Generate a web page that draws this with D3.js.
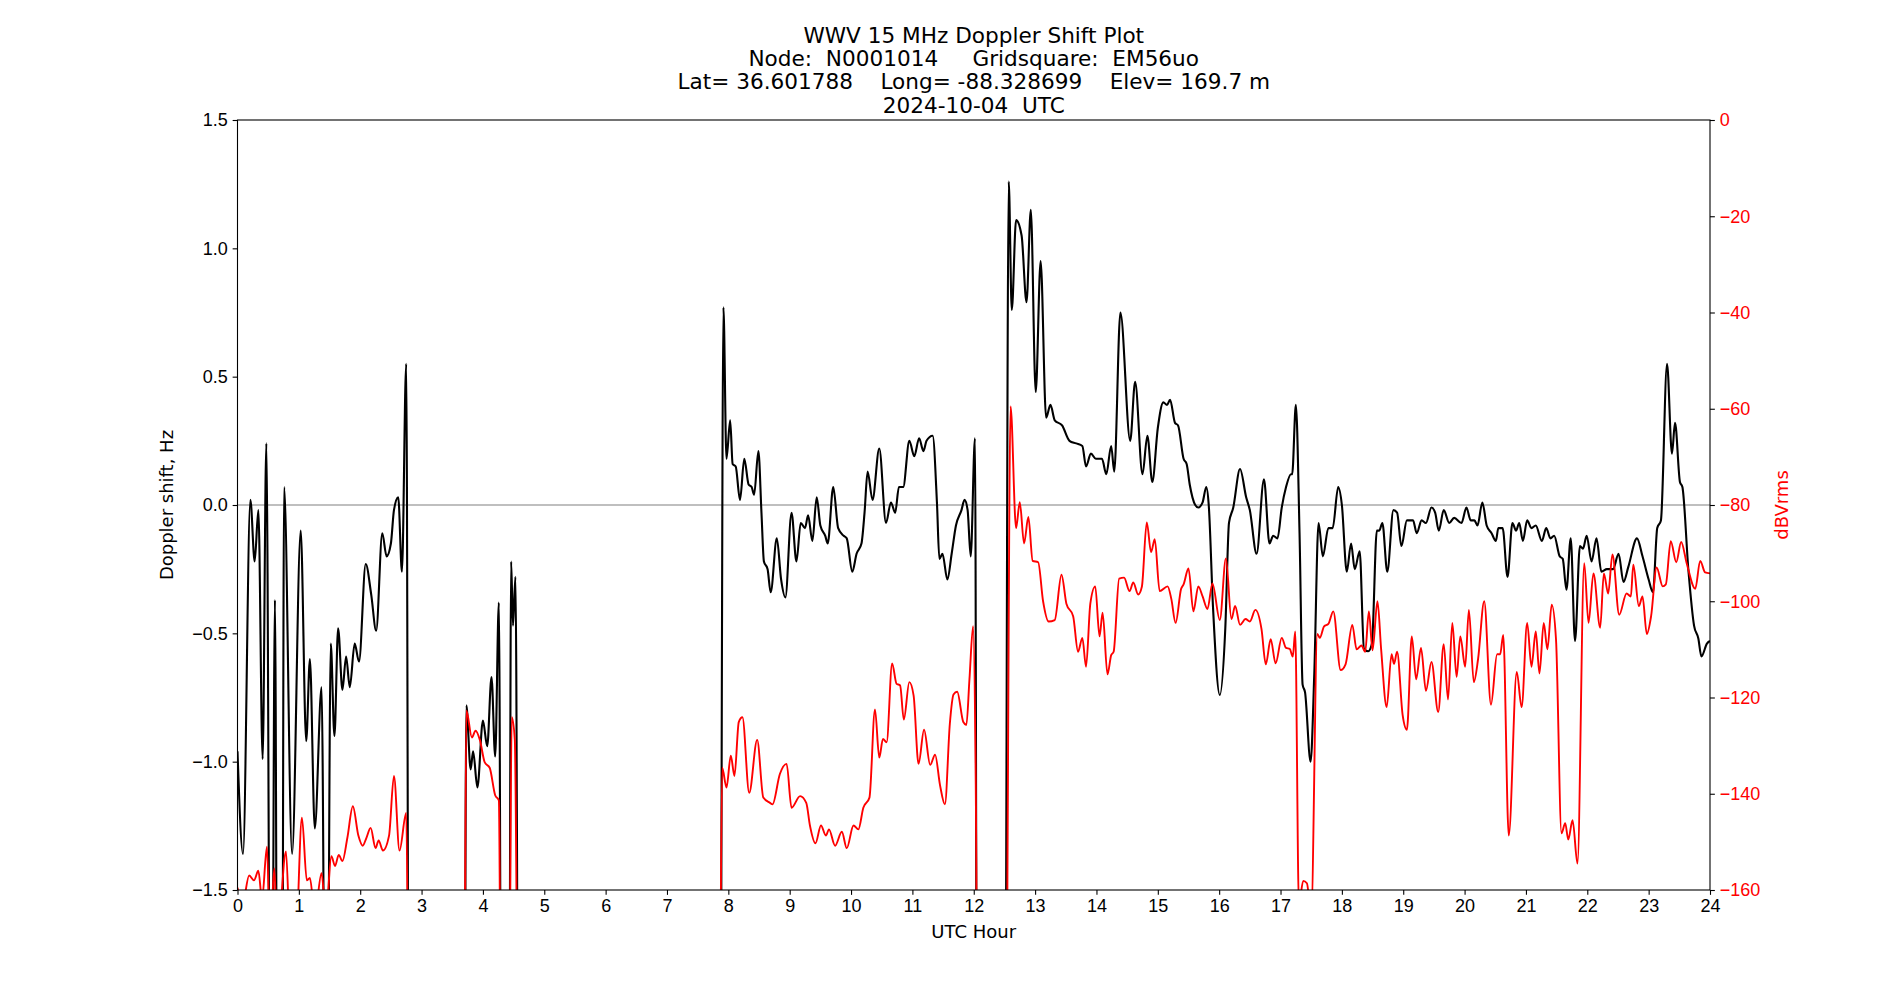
<!DOCTYPE html>
<html>
<head>
<meta charset="utf-8">
<script src="https://cdn.jsdelivr.net/npm/d3@7"></script>
<style>
  body { margin: 0; background: #fff; }
  svg { display: block; font-family: "DejaVu Sans", sans-serif; }
  .tick text { font-size: 18px; }
</style>
</head>
<body>
<svg width="1900" height="1000"></svg>
<script>
// Doppler shift trace (black, left axis). Values below -1.5 run off the plot bottom.
const dopplerHours = [
  0.00, 0.09, 0.21, 0.28, 0.34, 0.41, 0.47, 0.55, 0.61, 0.66, 0.72, 0.76, 0.89, 1.03, 1.12, 1.18,
  1.26, 1.37, 1.45, 1.52, 1.58, 1.64, 1.71, 1.77, 1.83, 1.91, 1.98, 2.09, 2.18, 2.26, 2.36, 2.43,
  2.50, 2.55, 2.62, 2.68, 2.75, 2.80, 3.69, 3.73, 3.80, 3.84, 3.91, 4.00, 4.07, 4.14, 4.20, 4.26,
  4.31, 4.42, 4.46, 4.49, 4.53, 4.59, 7.86, 7.92, 7.97, 8.03, 8.07, 8.12, 8.19, 8.26, 8.33, 8.38,
  8.42, 8.49, 8.54, 8.58, 8.64, 8.69, 8.79, 8.86, 8.93, 9.03, 9.11, 9.18, 9.25, 9.30, 9.37, 9.44,
  9.50, 9.58, 9.62, 9.71, 9.79, 9.88, 9.93, 10.02, 10.09, 10.17, 10.22, 10.27, 10.35, 10.46, 10.57,
  10.65, 10.72, 10.78, 10.85, 10.95, 11.03, 11.11, 11.18, 11.23, 11.33, 11.40, 11.44, 11.49, 11.57,
  11.64, 11.71, 11.80, 11.85, 11.90, 11.95, 12.02, 12.06, 12.50, 12.57, 12.62, 12.69, 12.78, 12.86,
  12.93, 13.01, 13.09, 13.18, 13.25, 13.32, 13.44, 13.56, 13.67, 13.77, 13.83, 13.91, 13.99, 14.09,
  14.16, 14.24, 14.29, 14.39, 14.55, 14.63, 14.75, 14.83, 14.91, 15.00, 15.09, 15.15, 15.20, 15.28,
  15.33, 15.42, 15.47, 15.52, 15.61, 15.66, 15.73, 15.79, 15.83, 15.90, 16.01, 16.10, 16.16, 16.23,
  16.34, 16.44, 16.50, 16.61, 16.73, 16.82, 16.88, 16.95, 17.02, 17.09, 17.17, 17.19, 17.25, 17.31,
  17.36, 17.40, 17.49, 17.55, 17.62, 17.69, 17.78, 17.85, 17.94, 18.00, 18.08, 18.15, 18.21, 18.29,
  18.36, 18.43, 18.49, 18.57, 18.61, 18.66, 18.74, 18.84, 18.90, 18.97, 19.06, 19.11, 19.16, 19.22,
  19.30, 19.37, 19.46, 19.52, 19.58, 19.66, 19.75, 19.83, 19.95, 20.03, 20.10, 20.16, 20.21, 20.29,
  20.36, 20.44, 20.51, 20.55, 20.62, 20.70, 20.78, 20.84, 20.89, 20.95, 21.02, 21.09, 21.16, 21.26,
  21.33, 21.40, 21.46, 21.55, 21.60, 21.66, 21.73, 21.80, 21.88, 21.93, 21.99, 22.07, 22.15, 22.23,
  22.32, 22.42, 22.51, 22.59, 22.67, 22.81, 22.90, 23.00, 23.07, 23.14, 23.20, 23.30, 23.38, 23.43,
  23.51, 23.55, 23.65, 23.74, 23.81, 23.86, 23.95, 24.00
];
const dopplerHz = [
  -0.96, -1.36, 0.02, -0.22, -0.02, -0.99, 0.24, -3, -0.37, -3, -3, 0.07, -1.36, -0.10, -0.92, -0.60,
  -1.26, -0.71, -3, -0.54, -0.90, -0.48, -0.72, -0.59, -0.71, -0.54, -0.61, -0.23, -0.35, -0.49, -0.11, -0.20,
  -0.15, -0.02, 0.03, -0.26, 0.55, -3, -3, -0.78, -1.03, -0.96, -1.10, -0.84, -0.94, -0.67, -0.98, -0.38,
  -3, -3, -0.22, -0.47, -0.28, -3, -3, 0.77, 0.18, 0.33, 0.16, 0.15, 0.02, 0.18, 0.08, 0.07,
  0.04, 0.21, -0.03, -0.22, -0.25, -0.34, -0.13, -0.29, -0.36, -0.03, -0.22, -0.07, -0.09, -0.04, -0.14, 0.03,
  -0.08, -0.12, -0.15, 0.07, -0.09, -0.12, -0.13, -0.26, -0.19, -0.15, -0.03, 0.13, 0.02, 0.22, -0.07,
  0.01, -0.03, 0.07, 0.07, 0.25, 0.19, 0.26, 0.21, 0.25, 0.27, 0.01, -0.21, -0.19, -0.29,
  -0.19, -0.08, -0.02, 0.02, -0.02, -0.20, 0.26, -3, -3, 1.26, 0.76, 1.11, 1.05, 0.79,
  1.15, 0.44, 0.95, 0.34, 0.39, 0.33, 0.31, 0.25, 0.24, 0.23, 0.15, 0.20, 0.18, 0.18,
  0.12, 0.23, 0.13, 0.75, 0.25, 0.48, 0.12, 0.27, 0.09, 0.30, 0.40, 0.39, 0.41, 0.32,
  0.31, 0.18, 0.16, 0.08, 0.00, -0.01, 0.01, 0.07, 0.00, -0.40, -0.74, -0.48, -0.07, -0.01,
  0.14, 0.03, -0.02, -0.19, 0.10, -0.15, -0.12, -0.13, -0.01, 0.07, 0.12, 0.12, 0.39, -0.11,
  -0.70, -0.73, -1.00, -0.66, -0.07, -0.20, -0.09, -0.09, 0.07, 0.00, -0.26, -0.15, -0.25, -0.18,
  -0.56, -0.57, -0.54, -0.10, -0.10, -0.07, -0.26, -0.02, -0.03, -0.16, -0.06, -0.06, -0.06, -0.11,
  -0.06, -0.07, -0.01, -0.03, -0.10, -0.02, -0.07, -0.05, -0.07, -0.01, -0.06, -0.06, -0.08, 0.01,
  -0.08, -0.11, -0.14, -0.09, -0.09, -0.28, -0.07, -0.10, -0.07, -0.14, -0.06, -0.09, -0.08, -0.14,
  -0.09, -0.13, -0.12, -0.20, -0.21, -0.33, -0.13, -0.53, -0.16, -0.17, -0.12, -0.22, -0.13, -0.26,
  -0.25, -0.25, -0.19, -0.30, -0.24, -0.13, -0.20, -0.29, -0.34, -0.09, -0.06, 0.55, 0.20, 0.32,
  0.09, 0.07, -0.26, -0.47, -0.52, -0.59, -0.54, -0.53
];

// Received level trace (red, right axis). Values below -160 run off the plot bottom.
const rmsHours = [
  0.00, 0.08, 0.19, 0.27, 0.34, 0.40, 0.48, 0.53, 0.60, 0.65, 0.79, 0.86, 0.95, 1.05, 1.13, 1.18,
  1.26, 1.37, 1.44, 1.53, 1.59, 1.65, 1.71, 1.79, 1.88, 1.97, 2.04, 2.10, 2.17, 2.25, 2.30, 2.37,
  2.47, 2.55, 2.64, 2.75, 2.80, 3.69, 3.73, 3.82, 3.88, 3.95, 4.03, 4.11, 4.20, 4.26, 4.30, 4.42,
  4.47, 4.52, 4.58, 7.85, 7.90, 7.97, 8.04, 8.10, 8.17, 8.23, 8.34, 8.47, 8.57, 8.68, 8.72, 8.84,
  8.95, 9.03, 9.17, 9.27, 9.33, 9.42, 9.51, 9.59, 9.64, 9.74, 9.85, 9.93, 10.04, 10.12, 10.20, 10.30,
  10.39, 10.46, 10.52, 10.58, 10.67, 10.74, 10.80, 10.86, 10.95, 11.02, 11.10, 11.19, 11.29, 11.37,
  11.45, 11.53, 11.61, 11.67, 11.73, 11.83, 11.88, 11.93, 11.99, 12.03, 12.07, 12.52, 12.60, 12.69,
  12.75, 12.82, 12.89, 12.96, 13.05, 13.13, 13.22, 13.32, 13.43, 13.51, 13.62, 13.70, 13.77, 13.83,
  13.90, 13.98, 14.05, 14.10, 14.18, 14.24, 14.28, 14.37, 14.45, 14.54, 14.60, 14.68, 14.74, 14.82,
  14.89, 14.95, 15.03, 15.16, 15.22, 15.29, 15.38, 15.42, 15.50, 15.58, 15.66, 15.73, 15.81, 15.89,
  16.01, 16.11, 16.20, 16.26, 16.34, 16.43, 16.50, 16.59, 16.69, 16.76, 16.84, 16.92, 17.02, 17.09,
  17.15, 17.20, 17.24, 17.30, 17.37, 17.43, 17.50, 17.60, 17.64, 17.71, 17.78, 17.86, 17.98, 18.06,
  18.17, 18.24, 18.32, 18.38, 18.44, 18.50, 18.58, 18.64, 18.73, 18.81, 18.85, 18.90, 18.99, 19.06,
  19.14, 19.21, 19.29, 19.37, 19.46, 19.57, 19.66, 19.73, 19.80, 19.87, 19.93, 20.01, 20.07, 20.15,
  20.22, 20.32, 20.43, 20.53, 20.58, 20.63, 20.72, 20.85, 20.93, 21.02, 21.09, 21.16, 21.22, 21.29,
  21.35, 21.42, 21.49, 21.58, 21.64, 21.69, 21.76, 21.84, 21.95, 22.02, 22.10, 22.21, 22.27, 22.34,
  22.41, 22.52, 22.64, 22.71, 22.75, 22.84, 22.90, 22.97, 23.04, 23.13, 23.23, 23.28, 23.36, 23.45,
  23.53, 23.62, 23.76, 23.84, 23.92, 24.00
];
const rmsDb = [
  -159.5, -163, -157, -158, -156, -162, -151, -170, -155.5, -170, -152, -170, -170, -145, -158, -157.5,
  -165, -156.5, -165, -153, -155, -152.7, -154, -149.2, -142.6, -148.7, -150.8, -149.2, -147.1, -151.3, -149.7, -151.8,
  -148.7, -136.3, -151.8, -144, -200, -200, -122.7, -128.3, -126.9, -128.8, -133.5, -134.6, -140.3, -141.4, -200, -200,
  -124.1, -128.8, -200, -200, -134.6, -138.7, -132.1, -136.3, -125.1, -124.1, -139.8, -128.8, -140.8, -141.9, -142.2, -135.9,
  -133.8, -142.9, -140.5, -141.9, -146.6, -150.3, -146.6, -148.7, -147.4, -150.8, -147.9, -151.3, -146.6, -147.4, -142.9, -140.8,
  -122.5, -132.5, -128.6, -129.3, -112.9, -117.1, -117.5, -124.6, -116.8, -119.6, -133.8, -126.7, -134, -131.9,
  -138.2, -142.2, -125.5, -119.4, -118.8, -125.1, -125.7, -116.2, -105.2, -134, -200, -200, -59.5, -84.8,
  -79.4, -88, -82.5, -91.6, -91.9, -100, -104.2, -103.9, -94.5, -100.5, -103.1, -110.5, -107.6, -113.6,
  -100.5, -96.9, -107.3, -102.4, -115.2, -111.2, -110.5, -95.3, -95.1, -97.9, -96.1, -98.6, -97, -83.6,
  -89.8, -87.1, -97.9, -96.9, -99.5, -104.5, -97.4, -96.5, -93.2, -102.1, -96.9, -99, -101.6, -96.3,
  -103.9, -91.1, -103.7, -101, -104.9, -103.7, -104.2, -101.8, -105.8, -113.1, -107.9, -112.9, -107.6, -109.7,
  -109.9, -111.5, -106.3, -163, -158.1, -158.6, -165, -106.8, -107.6, -105.2, -104.7, -102.1, -114.3, -113.1,
  -104.9, -110, -109.2, -110.5, -102.1, -110.2, -100, -110, -122, -111, -113, -110.5, -123.6, -126.7,
  -107.3, -116.2, -109.7, -118.6, -112.6, -123, -108.9, -120.4, -104.5, -115.7, -107.3, -113.6, -101.8, -116.8,
  -112, -100, -121.5, -111, -111, -107, -148.7, -114.7, -122, -104.5, -113.6, -106.3, -115, -104.5,
  -110, -100.7, -107.9, -148.2, -146.1, -149.5, -145.5, -154.5, -92.1, -104.5, -94.2, -105.5, -94.2, -98.4,
  -90.3, -102.8, -98.4, -99, -92.4, -101, -99, -106.8, -103.1, -93, -96.9, -96.5, -87.5, -91.9,
  -87.7, -92.1, -97.4, -91.6, -94, -94.2
];

const hourTicks = d3.range(0, 25);
const hzTicks = [-1.5, -1.0, -0.5, 0.0, 0.5, 1.0, 1.5];
const dbTicks = [-160, -140, -120, -100, -80, -60, -40, -20, 0];
const titleLines = [
  "WWV 15 MHz Doppler Shift Plot",
  "Node:  N0001014     Gridsquare:  EM56uo",
  "Lat= 36.601788    Long= -88.328699    Elev= 169.7 m",
  "2024-10-04  UTC"
];

if (dopplerHours.length !== dopplerHz.length || rmsHours.length !== rmsDb.length) {
  throw new Error(`length mismatch ${dopplerHours.length}/${dopplerHz.length} ${rmsHours.length}/${rmsDb.length}`);
}

const svg = d3.select("svg");
const plotLeft = 237.5, plotRight = 1710, plotTop = 120, plotBottom = 890;
const tickLen = 4.86;
const fontSize = "18px";

const x = d3.scaleLinear().domain([0, 24]).range([plotLeft, plotRight]);
const yHz = d3.scaleLinear().domain([-1.5, 1.5]).range([plotBottom, plotTop]);
const yDb = d3.scaleLinear().domain([-160, 0]).range([plotBottom, plotTop]);

svg.append("defs").append("clipPath").attr("id", "plot")
  .append("rect")
  .attr("x", plotLeft).attr("y", plotTop)
  .attr("width", plotRight - plotLeft).attr("height", plotBottom - plotTop);

// zero reference line
svg.append("line")
  .attr("x1", plotLeft).attr("x2", plotRight)
  .attr("y1", yHz(0)).attr("y2", yHz(0))
  .attr("stroke", "#808080").attr("stroke-width", 1.2);

const dopplerLine = d3.line()
  .x((d, i) => x(dopplerHours[i]))
  .y((d) => yHz(d))
  .curve(d3.curveMonotoneX);

const rmsLine = d3.line()
  .x((d, i) => x(rmsHours[i]))
  .y((d) => yDb(d))
  .curve(d3.curveMonotoneX);

const plot = svg.append("g").attr("clip-path", "url(#plot)");

plot.append("path")
  .attr("d", dopplerLine(dopplerHz))
  .attr("fill", "none")
  .attr("stroke", "black")
  .attr("stroke-width", 2.1)
  .attr("stroke-linejoin", "round");

plot.append("path")
  .attr("d", rmsLine(rmsDb))
  .attr("fill", "none")
  .attr("stroke", "red")
  .attr("stroke-width", 1.9)
  .attr("stroke-linejoin", "round");

// axes
const xAxis = svg.append("g")
  .attr("transform", `translate(0,${plotBottom})`)
  .call(d3.axisBottom(x).tickValues(hourTicks).tickFormat(d3.format("d"))
    .tickSize(tickLen).tickPadding(4.5).tickSizeOuter(0));

const yAxis = svg.append("g")
  .attr("transform", `translate(${plotLeft},0)`)
  .call(d3.axisLeft(yHz).tickValues(hzTicks).tickFormat(d3.format(".1f"))
    .tickSize(tickLen).tickPadding(4.9).tickSizeOuter(0));

const y2Axis = svg.append("g")
  .attr("transform", `translate(${plotRight},0)`)
  .call(d3.axisRight(yDb).tickValues(dbTicks).tickFormat(d3.format("d"))
    .tickSize(tickLen).tickPadding(4.9).tickSizeOuter(0));

svg.selectAll(".domain").remove();
svg.selectAll(".tick line").attr("stroke", "black").attr("stroke-width", 1.1);
xAxis.selectAll(".tick text").attr("fill", "black");
yAxis.selectAll(".tick text").attr("fill", "black");
y2Axis.selectAll(".tick text").attr("fill", "red");

// frame
svg.append("rect")
  .attr("x", plotLeft).attr("y", plotTop)
  .attr("width", plotRight - plotLeft).attr("height", plotBottom - plotTop)
  .attr("fill", "none")
  .attr("stroke", "black")
  .attr("stroke-width", 1.1);

// labels
svg.append("text")
  .attr("x", (plotLeft + plotRight) / 2)
  .attr("y", 938)
  .attr("text-anchor", "middle")
  .attr("font-size", fontSize)
  .text("UTC Hour");

svg.append("text")
  .attr("transform", "rotate(-90)")
  .attr("x", -(plotTop + plotBottom) / 2)
  .attr("y", 167)
  .attr("dy", "0.35em")
  .attr("text-anchor", "middle")
  .attr("font-size", fontSize)
  .text("Doppler shift, Hz");

svg.append("text")
  .attr("transform", "rotate(-90)")
  .attr("x", -(plotTop + plotBottom) / 2)
  .attr("y", 1782)
  .attr("dy", "0.35em")
  .attr("text-anchor", "middle")
  .attr("font-size", fontSize)
  .attr("fill", "red")
  .text("dBVrms");

svg.append("g")
  .selectAll("text")
  .data(titleLines)
  .join("text")
  .attr("x", (plotLeft + plotRight) / 2)
  .attr("y", (d, i) => 43 + i * 23.2)
  .attr("text-anchor", "middle")
  .attr("font-size", "21.6px")
  .style("white-space", "pre")
  .text((d) => d);
</script>
</body>
</html>
